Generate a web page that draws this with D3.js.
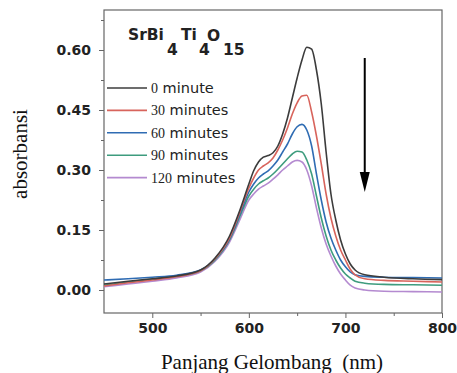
<!DOCTYPE html>
<html>
<head>
<meta charset="utf-8">
<script src="https://cdn.jsdelivr.net/npm/d3@7"></script>
<style>
  body { margin: 0; background: #fff; }
  svg { display: block; }
</style>
</head>
<body>
<script>
// wavelength grid (nm)
const wavelengths = [450, 475, 500, 525, 550, 565, 580, 590, 600, 605, 610, 615, 620, 625, 630, 635, 640, 645,
  650, 655, 660, 665, 670, 675, 680, 685, 690, 695, 700, 705, 710, 720, 740, 770, 800];

const min0 = [0.015, 0.022, 0.028, 0.035, 0.05, 0.08, 0.135, 0.195, 0.265, 0.298, 0.32, 0.332, 0.336, 0.343, 0.36, 0.39, 0.43, 0.48,
  0.53, 0.575, 0.607, 0.602, 0.55, 0.465, 0.345, 0.24, 0.175, 0.125, 0.09, 0.065, 0.05, 0.038, 0.032, 0.028, 0.026];
const min30 = [0.01, 0.018, 0.025, 0.033, 0.048, 0.078, 0.13, 0.19, 0.255, 0.28, 0.3, 0.31, 0.318, 0.33, 0.35, 0.375, 0.405, 0.44,
  0.468, 0.485, 0.487, 0.445, 0.385, 0.315, 0.24, 0.18, 0.135, 0.1, 0.075, 0.052, 0.038, 0.028, 0.024, 0.022, 0.02];
const min60 = [0.025, 0.028, 0.032, 0.037, 0.05, 0.078, 0.128, 0.185, 0.245, 0.265, 0.28, 0.29, 0.298, 0.31, 0.325, 0.345, 0.365, 0.39,
  0.408, 0.414, 0.4, 0.36, 0.29, 0.225, 0.17, 0.13, 0.1, 0.075, 0.058, 0.045, 0.038, 0.034, 0.032, 0.031, 0.03];
const min90 = [0.012, 0.02, 0.027, 0.034, 0.048, 0.075, 0.125, 0.18, 0.235, 0.252, 0.265, 0.273, 0.28, 0.29, 0.302, 0.315, 0.328, 0.34,
  0.347, 0.345, 0.325, 0.29, 0.235, 0.18, 0.135, 0.1, 0.075, 0.055, 0.04, 0.03, 0.022, 0.017, 0.014, 0.013, 0.012];
const min120 = [0.008, 0.015, 0.022, 0.03, 0.045, 0.072, 0.12, 0.172, 0.225, 0.24, 0.252, 0.26, 0.267, 0.277, 0.288, 0.3, 0.31, 0.32,
  0.324, 0.32, 0.3, 0.26, 0.205, 0.155, 0.115, 0.085, 0.06, 0.04, 0.025, 0.012, 0.005, 0.0, -0.003, -0.004, -0.005];

const seriesNames = ['0 minute', '30 minutes', '60 minutes', '90 minutes', '120 minutes'];
const seriesValues = [min0, min30, min60, min90, min120];
const seriesColors = ['#3c3c3c', '#d8645c', '#2f6cb3', '#3e9c7e', '#b48ad0'];

const xTicks = [500, 600, 700, 800];
const xMinorTicks = [550, 650, 750];
const yTicks = [0.0, 0.15, 0.30, 0.45, 0.60];
const yMinorTicks = [0.075, 0.225, 0.375, 0.525, 0.675];

const width = 457;
const height = 373;

const x = d3.scaleLinear().domain([450, 800]).range([104, 442]);
const y = d3.scaleLinear().domain([-0.0575, 0.70]).range([313, 10]);

const svg = d3.select('body').append('svg')
    .attr('width', width)
    .attr('height', height);

// axes
const tickFont = 'DejaVu Sans, sans-serif';

svg.append('g')
    .attr('transform', 'translate(104,0)')
    .call(d3.axisLeft(y).tickValues(yTicks).tickFormat(d3.format('.2f')).tickSize(5).tickPadding(8));
svg.append('g')
    .attr('transform', 'translate(104,0)')
    .call(d3.axisLeft(y).tickValues(yMinorTicks).tickFormat('').tickSize(3));

svg.append('g')
    .attr('transform', 'translate(0,313)')
    .call(d3.axisBottom(x).tickValues(xTicks).tickFormat(d3.format('d')).tickSize(5).tickPadding(5));
svg.append('g')
    .attr('transform', 'translate(0,313)')
    .call(d3.axisBottom(x).tickValues(xMinorTicks).tickFormat('').tickSize(3));

svg.selectAll('.domain').remove();
svg.selectAll('.tick line').attr('stroke', '#666');
svg.selectAll('.tick text')
    .attr('fill', '#222')
    .style('font-family', tickFont)
    .style('font-weight', 'bold')
    .style('font-size', '14px');

// frame
svg.append('rect')
    .attr('x', x(450))
    .attr('y', y(0.70))
    .attr('width', x(800) - x(450))
    .attr('height', y(-0.0575) - y(0.70))
    .attr('fill', 'none')
    .attr('stroke', '#666')
    .attr('stroke-width', 1.2);

// curves
const line = d3.line()
    .x((d, i) => x(wavelengths[i]))
    .y(d => y(d))
    .curve(d3.curveMonotoneX);

svg.append('g')
  .selectAll('path')
    .data(seriesValues.slice().reverse())
  .enter().append('path')
    .attr('d', line)
    .attr('fill', 'none')
    .attr('stroke', (d, i) => seriesColors[seriesColors.length - 1 - i])
    .attr('stroke-width', 1.6);

// arrow
svg.append('line')
    .attr('x1', x(720)).attr('x2', x(720))
    .attr('y1', y(0.58)).attr('y2', y(0.29))
    .attr('stroke', '#000')
    .attr('stroke-width', 2);
svg.append('path')
    .attr('d', d3.line()([[x(720) - 5, y(0.295)], [x(720) + 5, y(0.295)], [x(720), y(0.245)]]) + 'Z')
    .attr('fill', '#000');

// title
const title = svg.append('text')
    .style('font-family', tickFont)
    .style('font-weight', 'bold')
    .style('font-size', '15.5px')
    .attr('fill', '#222');
title.append('tspan').attr('x', 128).attr('y', 40).text('SrBi');
title.append('tspan').attr('x', 167).attr('y', 55).text('4');
title.append('tspan').attr('x', 181).attr('y', 40).text('Ti');
title.append('tspan').attr('x', 199).attr('y', 55).text('4');
title.append('tspan').attr('x', 207).attr('y', 41).text('O');
title.append('tspan').attr('x', 223).attr('y', 55).text('15');

// legend
const legend = svg.append('g');
const rows = legend.selectAll('g')
    .data(seriesNames)
  .enter().append('g')
    .attr('transform', (d, i) => 'translate(107,' + (88 + i * 22.4) + ')');

rows.append('line')
    .attr('x1', 0).attr('x2', 40)
    .attr('stroke', (d, i) => seriesColors[i])
    .attr('stroke-width', 1.6);

const labels = rows.append('text')
    .attr('x', 44)
    .attr('y', 5)
    .attr('fill', '#222');
labels.append('tspan')
    .style('font-family', 'Liberation Serif, serif')
    .style('font-size', '14px')
    .text(d => d.split(' ')[0]);
labels.append('tspan')
    .style('font-family', tickFont)
    .style('font-size', '14.5px')
    .text(d => ' ' + d.split(' ')[1]);

// axis titles
svg.append('text')
    .attr('transform', 'translate(27,154) rotate(-90)')
    .attr('text-anchor', 'middle')
    .style('font-family', 'Liberation Serif, serif')
    .style('font-size', '21px')
    .attr('fill', '#111')
    .text('absorbansi');

svg.append('text')
    .attr('x', 272)
    .attr('y', 369)
    .attr('text-anchor', 'middle')
    .style('font-family', 'Liberation Serif, serif')
    .style('font-size', '21px')
    .style('white-space', 'pre')
    .attr('fill', '#111')
    .text('Panjang Gelombang  (nm)');
</script>
</body>
</html>
